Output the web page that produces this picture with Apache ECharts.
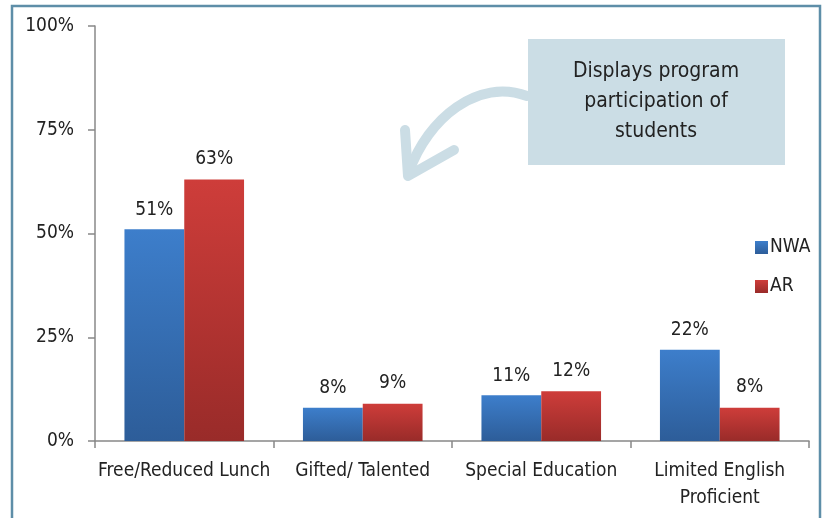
<!DOCTYPE html>
<html>
<head>
    <meta charset="utf-8">
    <title>ECharts</title>
    <script src="https://cdn.jsdelivr.net/npm/echarts@6/dist/echarts.min.js"></script>
    <style>
        html, body { margin: 0; padding: 0; background: #fff; }
    </style>
</head>
<body>
    <div id="main" style="width: 828px;height:518px;"></div>
    <script type="text/javascript">
        // 数据
        let categories = ['Free/Reduced Lunch', 'Gifted/ Talented', 'Special Education', 'Limited English\nProficient']
        let nwa = [51, 8, 11, 22]
        let ar = [63, 9, 12, 8]
        let yTicks = [0, 25, 50, 75, 100]

        let font = "'Liberation Sans Narrow', 'DejaVu Sans Condensed', 'Roboto', sans-serif"
        let arrowColor = '#cbdde5'

        let myChart = echarts.init(document.getElementById('main'));

        function grad(top, bottom) {
            return new echarts.graphic.LinearGradient(0, 0, 0, 1, [
                { offset: 0, color: top },
                { offset: 1, color: bottom }
            ])
        }

        let option = {
            backgroundColor: '#fff',
            textStyle: { fontFamily: font },
            grid: { left: 95, right: 19, top: 26, bottom: 77 },
            legend: {
                orient: 'vertical',
                left: 750,
                top: 233,
                icon: 'rect',
                itemWidth: 13,
                itemHeight: 13,
                itemGap: 20,
                textStyle: { fontFamily: font, fontSize: 19, color: '#222', padding: [0, 0, 0, -3] },
                data: ['NWA', 'AR']
            },
            xAxis: {
                type: 'category',
                data: categories,
                axisLine: { lineStyle: { color: '#888', width: 1.5 } },
                axisTick: { show: true, length: 7, lineStyle: { color: '#888', width: 1.5 } },
                axisLabel: { fontFamily: font, fontSize: 19, color: '#222', margin: 17, lineHeight: 27, interval: 0 }
            },
            yAxis: {
                type: 'value',
                min: yTicks[0],
                max: yTicks[yTicks.length - 1],
                interval: 25,
                splitLine: { show: false },
                axisLine: { show: true, lineStyle: { color: '#888', width: 1.5 } },
                axisTick: { show: true, length: 7, lineStyle: { color: '#888', width: 1.5 } },
                axisLabel: { fontFamily: font, fontSize: 19, color: '#222', margin: 21, formatter: '{value}%' }
            },
            series: [
                {
                    name: 'NWA',
                    type: 'bar',
                    data: nwa,
                    barWidth: '33.5%',
                    barGap: '0%',
                    itemStyle: { color: grad('#3d7ecb', '#2d5d99') },
                    label: { show: true, position: 'top', distance: 10, formatter: '{c}%', fontFamily: font, fontSize: 19, color: '#222' }
                },
                {
                    name: 'AR',
                    type: 'bar',
                    data: ar,
                    barWidth: '33.5%',
                    itemStyle: { color: grad('#ce3d3a', '#992b29') },
                    label: { show: true, position: 'top', distance: 11, formatter: '{c}%', fontFamily: font, fontSize: 19, color: '#222' }
                }
            ],
            graphic: [
                // 外边框
                {
                    type: 'rect',
                    shape: { x: 12, y: 6, width: 808, height: 520 },
                    style: { fill: 'none', stroke: '#5e8ea8', lineWidth: 2.5 },
                    z: 100
                },
                // 弯曲箭头
                {
                    type: 'bezierCurve',
                    shape: { x1: 527, y1: 96, cpx1: 478, cpy1: 78, cpx2: 428, cpy2: 118, x2: 409, y2: 172 },
                    style: { stroke: arrowColor, lineWidth: 10, fill: 'none', lineCap: 'round' }
                },
                {
                    type: 'polyline',
                    shape: { points: [[405, 130], [408, 176], [454, 150]] },
                    style: { stroke: arrowColor, lineWidth: 10, fill: 'none', lineCap: 'round', lineJoin: 'round' }
                },
                // 说明框
                {
                    type: 'rect',
                    shape: { x: 528, y: 39, width: 257, height: 126 },
                    style: { fill: arrowColor }
                },
                {
                    type: 'text',
                    x: 656,
                    y: 102,
                    style: {
                        text: 'Displays program\nparticipation of\nstudents',
                        fontFamily: font,
                        fontSize: 21,
                        lineHeight: 30,
                        fill: '#222',
                        align: 'center',
                        verticalAlign: 'middle'
                    }
                }
            ]
        };

        myChart.setOption(option);
    </script>
</body>
</html>
